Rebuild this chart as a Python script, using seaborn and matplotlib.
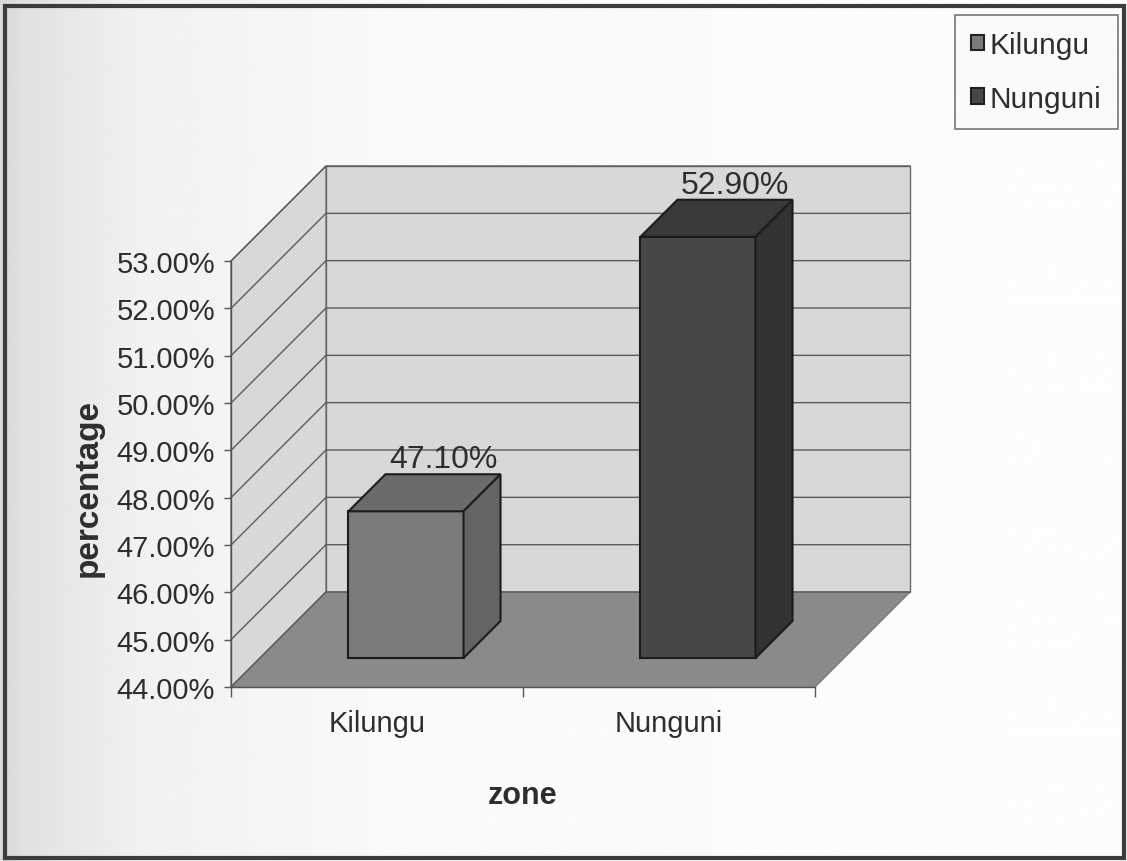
import numpy as np
import pandas as pd
import matplotlib
matplotlib.use("Agg")
import matplotlib.pyplot as plt
from matplotlib.patches import Polygon, Rectangle
import seaborn as sns

# ---- data -------------------------------------------------------------
zones = ["Kilungu", "Nunguni"]
percentages = [47.10, 52.90]
y_ticks = [44, 45, 46, 47, 48, 49, 50, 51, 52, 53]
y_range = (44, 53)

# ---- styling ----------------------------------------------------------
front_colors = {"Kilungu": "#7a7a7a", "Nunguni": "#474747"}
top_colors = {"Kilungu": "#6b6b6b", "Nunguni": "#3a3a3a"}
side_colors = {"Kilungu": "#646464", "Nunguni": "#333333"}
edge_color = "#1c1c1c"
wall_color = "#d8d8d8"
floor_color = "#8a8a8a"
grid_color = "#5c5c5c"
text_color = "#2e2e2e"

plt.rcParams["font.family"] = ["Liberation Sans", "DejaVu Sans"]

W, H = 1127, 862
fig = plt.figure(figsize=(W / 100, H / 100), dpi=100)
fig.patch.set_facecolor("white")

# soft paper background with a dark frame
bg = fig.add_axes([0, 0, 1, 1], zorder=-10)
bg.set_axis_off()
xs = np.linspace(0, 1, 800)
shade = np.interp(xs, [0, 0.02, 0.12, 0.35, 1.0], [0.85, 0.88, 0.945, 0.98, 0.99])
bg.imshow(np.tile(shade, (10, 1)), cmap="gray", vmin=0, vmax=1,
          aspect="auto", extent=[0, 1, 0, 1])
bg.set_xlim(0, 1)
bg.set_ylim(0, 1)
bg.add_patch(Rectangle((5 / W, 3 / H), (1124 - 5) / W, (855 - 3) / H,
                       fill=False, edgecolor="#3c3c3c", lw=3,
                       transform=bg.transAxes))

# front plane of the 3-D chart box
left_px, right_px, top_px, bottom_px = 231, 815, 262, 688
ax = fig.add_axes([left_px / W, 1 - bottom_px / H,
                   (right_px - left_px) / W, (bottom_px - top_px) / H])
ax.patch.set_alpha(0)

df = pd.DataFrame({"zone": zones, "percentage": percentages})
sns.barplot(data=df, x="zone", y="percentage", hue="zone",
            palette=front_colors, width=0.394, saturation=1,
            edgecolor=edge_color, linewidth=1.5, legend=True,
            ax=ax, zorder=3)
bars = [b for c in ax.containers for b in c if np.isfinite(b.get_height())]

ax.set_xlim(-0.5, 1.5)
ax.set_ylim(*y_range)

# depth of the box, converted from pixels to data units
depth_px = 95
ddx = depth_px / (right_px - left_px) * 2.0
ddy = depth_px / (bottom_px - top_px) * (y_range[1] - y_range[0])
f0, f1 = 29 / 95, 66 / 95  # front and back of the columns within the depth

x0, x1 = -0.5, 1.5
y0, y1 = y_range

# back wall, side wall and floor
ax.add_patch(Polygon([(x0 + ddx, y0 + ddy), (x1 + ddx, y0 + ddy),
                      (x1 + ddx, y1 + ddy), (x0 + ddx, y1 + ddy)],
                     closed=True, fc=wall_color, ec="#6a6a6a", lw=1,
                     clip_on=False, zorder=0.5))
ax.add_patch(Polygon([(x0, y0), (x0, y1), (x0 + ddx, y1 + ddy),
                      (x0 + ddx, y0 + ddy)],
                     closed=True, fc=wall_color, ec="#6a6a6a", lw=1,
                     clip_on=False, zorder=0.5))
ax.add_patch(Polygon([(x0, y0), (x1, y0), (x1 + ddx, y0 + ddy),
                      (x0 + ddx, y0 + ddy)],
                     closed=True, fc=floor_color, ec="#7c7c7c", lw=1,
                     clip_on=False, zorder=0.6))
for t in y_ticks:
    ax.plot([x0, x0 + ddx, x1 + ddx], [t, t + ddy, t + ddy],
            color=grid_color, lw=1, clip_on=False, zorder=0.7)

# turn flat bars into 3-D columns standing on the floor
for bar in bars:
    h = bar.get_height()
    w = bar.get_width()
    zone = zones[int(round(bar.get_x() + w / 2))]
    bx = bar.get_x() + f0 * ddx
    by = y0 + f0 * ddy
    top = h + f0 * ddy
    bar.set_x(bx)
    bar.set_y(by)
    bar.set_height(h - y0)
    bar.set_clip_on(False)
    dx, dy = (f1 - f0) * ddx, (f1 - f0) * ddy
    ax.add_patch(Polygon([(bx, top), (bx + w, top), (bx + w + dx, top + dy),
                          (bx + dx, top + dy)], closed=True,
                         fc=top_colors[zone], ec=edge_color, lw=1.5,
                         clip_on=False, zorder=3))
    ax.add_patch(Polygon([(bx + w, by), (bx + w, top),
                          (bx + w + dx, top + dy), (bx + w + dx, by + dy)],
                         closed=True, fc=side_colors[zone], ec=edge_color,
                         lw=1.5, clip_on=False, zorder=3))
    ax.text(bx + w / 2 + dx, top + dy, f"{h:.2f}%", ha="center",
            va="bottom", fontsize=23, color=text_color, zorder=5,
            clip_on=False)

# axes, ticks and labels
for side in ("top", "right"):
    ax.spines[side].set_visible(False)
for side in ("left", "bottom"):
    ax.spines[side].set_color("#555555")
    ax.spines[side].set_linewidth(1)

ax.set_yticks(y_ticks)
ax.set_yticklabels([f"{t:.2f}%" for t in y_ticks])
ax.tick_params(axis="y", length=5, width=1, color="#555555",
               labelsize=21, labelcolor=text_color, pad=6.5)
ax.set_xticks([0, 1])
ax.set_xticklabels(zones)
ax.set_xticks([-0.5, 0.5, 1.5], minor=True)
ax.tick_params(axis="x", which="major", length=0, labelsize=21,
               labelcolor=text_color, pad=16)
ax.tick_params(axis="x", which="minor", length=7, width=1, color="#555555")

ax.set_ylabel("percentage", fontsize=24, fontweight="bold", color=text_color)
ax.yaxis.set_label_coords(-0.2175, 0.47)
ax.set_xlabel("zone", fontsize=22, fontweight="bold", color=text_color)
ax.xaxis.set_label_coords(0.5, -0.218)

# legend in the upper right corner
old = ax.get_legend()
handles = old.legend_handles
labels = [t.get_text() for t in old.get_texts()]
old.remove()
leg = ax.legend(handles, labels, loc="upper right",
                bbox_to_anchor=(1118 / W, 1 - 16 / H),
                bbox_transform=fig.transFigure, frameon=True, fancybox=False,
                edgecolor="#555555", facecolor="#fafafa", fontsize=21.5,
                handlelength=0.42, handleheight=0.42, handletextpad=0.2,
                labelspacing=0.85, borderpad=0.55, borderaxespad=0)
leg.get_frame().set_linewidth(1.2)
for hnd in leg.legend_handles:
    hnd.set_edgecolor("#222222")
for txt in leg.get_texts():
    txt.set_color(text_color)

fig.savefig("out.png", dpi=100)
